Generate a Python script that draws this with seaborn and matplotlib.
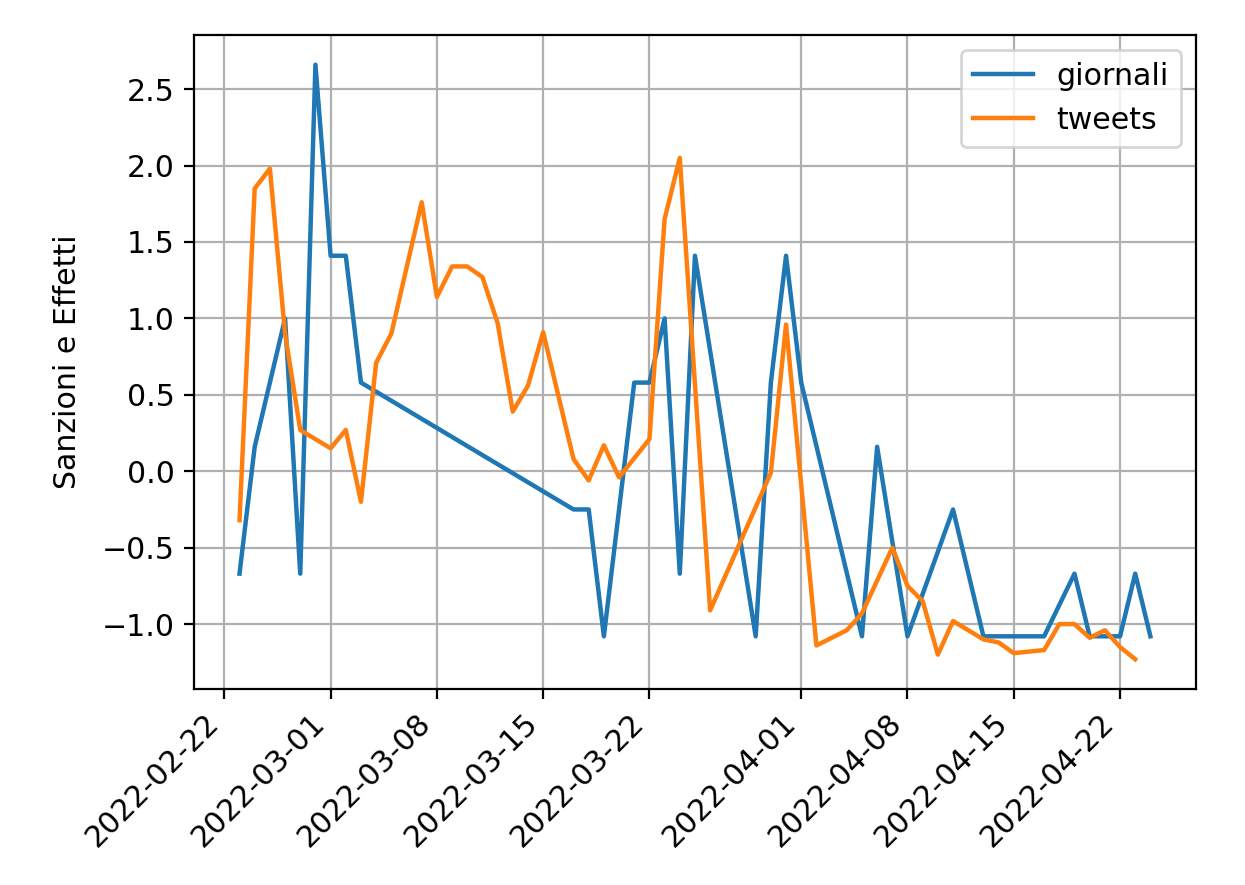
import pandas as pd
import seaborn as sns
import matplotlib.pyplot as plt

# giornali (newspapers) series
giornali_dates = [
    "2022-02-23", "2022-02-24", "2022-02-26", "2022-02-27", "2022-02-28",
    "2022-03-01", "2022-03-02", "2022-03-03", "2022-03-17", "2022-03-18",
    "2022-03-19", "2022-03-21", "2022-03-22", "2022-03-23", "2022-03-24",
    "2022-03-25", "2022-03-29", "2022-03-30", "2022-03-31", "2022-04-01",
    "2022-04-05", "2022-04-06", "2022-04-08", "2022-04-11", "2022-04-13",
    "2022-04-17", "2022-04-19", "2022-04-20", "2022-04-22", "2022-04-23",
    "2022-04-24",
]
giornali_values = [
    -0.67, 0.16, 1.0, -0.67, 2.66,
    1.41, 1.41, 0.58, -0.25, -0.25,
    -1.08, 0.58, 0.58, 1.0, -0.67,
    1.41, -1.08, 0.58, 1.41, 0.58,
    -1.08, 0.16, -1.08, -0.25, -1.08,
    -1.08, -0.67, -1.08, -1.08, -0.67,
    -1.08,
]

# tweets series
tweets_dates = [
    "2022-02-23", "2022-02-24", "2022-02-25", "2022-02-26", "2022-02-27",
    "2022-03-01", "2022-03-02", "2022-03-03", "2022-03-04", "2022-03-05",
    "2022-03-07", "2022-03-08", "2022-03-09", "2022-03-10", "2022-03-11",
    "2022-03-12", "2022-03-13", "2022-03-14", "2022-03-15", "2022-03-17",
    "2022-03-18", "2022-03-19", "2022-03-20", "2022-03-22", "2022-03-23",
    "2022-03-24", "2022-03-26", "2022-03-30", "2022-03-31", "2022-04-02",
    "2022-04-04", "2022-04-05", "2022-04-07", "2022-04-08", "2022-04-09",
    "2022-04-10", "2022-04-11", "2022-04-13", "2022-04-14", "2022-04-15",
    "2022-04-17", "2022-04-18", "2022-04-19", "2022-04-20", "2022-04-21",
    "2022-04-22", "2022-04-23",
]
tweets_values = [
    -0.32, 1.85, 1.98, 0.9, 0.27,
    0.15, 0.27, -0.2, 0.71, 0.9,
    1.76, 1.14, 1.34, 1.34, 1.27,
    0.97, 0.39, 0.56, 0.91, 0.08,
    -0.06, 0.17, -0.04, 0.21, 1.65,
    2.05, -0.91, -0.01, 0.96, -1.14,
    -1.04, -0.93, -0.5, -0.75, -0.85,
    -1.2, -0.98, -1.1, -1.12, -1.19,
    -1.17, -1.0, -1.0, -1.09, -1.04,
    -1.15, -1.23,
]

plt.rcParams["font.size"] = 10.8

fig = plt.figure(figsize=(6.225, 4.425), dpi=200)
ax = fig.add_axes([0.1558, 0.2215, 0.8048, 0.739])

sns.lineplot(x=pd.to_datetime(giornali_dates), y=giornali_values,
             color="#1f77b4", label="giornali", linewidth=1.6, ax=ax)
sns.lineplot(x=pd.to_datetime(tweets_dates), y=tweets_values,
             color="#ff7f0e", label="tweets", linewidth=1.6, ax=ax)

ax.grid(True)
ax.set_xlabel("")
ax.set_ylabel("Sanzioni e Effetti", labelpad=7)
ax.legend(loc="upper right")
plt.setp(ax.get_xticklabels(), rotation=45, ha="right")

fig.savefig("out.png", dpi=200)
